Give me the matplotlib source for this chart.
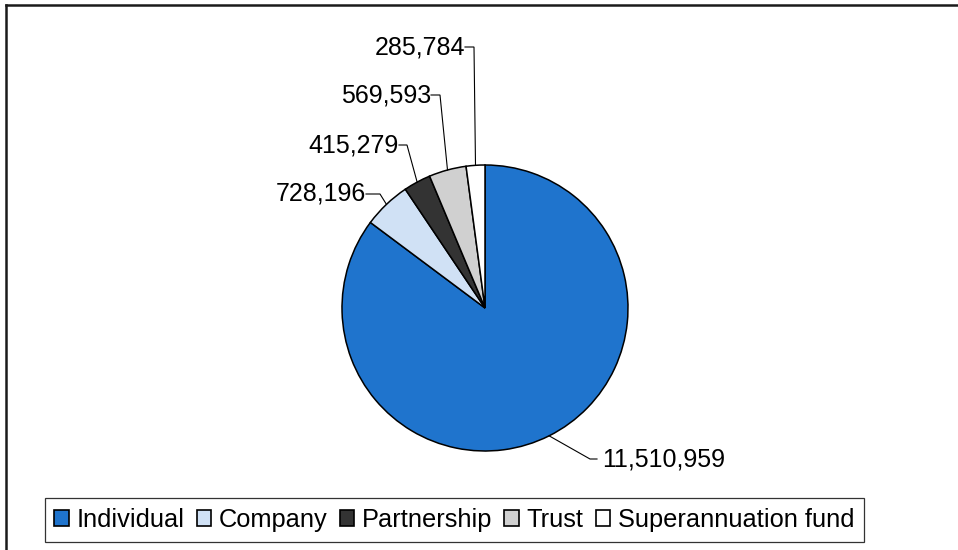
import numpy as np
import matplotlib
matplotlib.use("Agg")
import matplotlib.pyplot as plt
from matplotlib.patches import Patch
from matplotlib.lines import Line2D

plt.rcParams['font.family'] = ['Liberation Sans', 'DejaVu Sans']

categories = ["Individual", "Company", "Partnership", "Trust", "Superannuation fund"]
values = [11510959, 728196, 415279, 569593, 285784]
colors = ["#1f74cd", "#d0e1f5", "#333333", "#d0d0d0", "#ffffff"]

W, H = 958, 550
LABEL_FS = 18.0
LEGEND_FS = 18.3
fig = plt.figure(figsize=(W / 100, H / 100), dpi=100)
ax = fig.add_axes([0, 0, 1, 1])

cx, cy, r = 485, 308, 143

# pie drawn in a y-down pixel space: flip orientation accordingly
wedges, _ = ax.pie(values, colors=colors, startangle=-90, counterclock=True,
                   center=(cx, cy), radius=r, frame=True,
                   wedgeprops=dict(edgecolor="black", linewidth=1.1))
ax.set_xlim(0, W)
ax.set_ylim(H, 0)
ax.set_aspect('equal')
ax.axis('off')

# label elbows: (text anchor x, text y, elbow x, alignment)
label_layout = [
    (602, 459, 590, 'left'),
    (366, 194, 380, 'right'),
    (399, 145, 407, 'right'),
    (431, 95, 440, 'right'),
    (465, 47, 474, 'right'),
]

for w, v, (tx, ty, ex, ha) in zip(wedges, values, label_layout):
    ang = np.deg2rad((w.theta1 + w.theta2) / 2)
    px = cx + r * np.cos(ang)
    py = cy + r * np.sin(ang)
    end_x = tx - 5 if ha == 'left' else tx
    ax.plot([px, ex, end_x], [py, ty, ty],
            color="black", lw=0.8, solid_joinstyle='miter')
    ax.text(tx, ty, f"{v:,}", ha=ha, va='center', fontsize=LABEL_FS, color="black")

# outer frame: top and left edges
fig.add_artist(Line2D([6 / W, 6 / W], [1 - 5 / H, 0], transform=fig.transFigure,
                      color="#1a1a1a", lw=1.8))
fig.add_artist(Line2D([6 / W, 1], [1 - 5 / H, 1 - 5 / H], transform=fig.transFigure,
                      color="#1a1a1a", lw=1.8))

handles = [Patch(facecolor=c, edgecolor="black", linewidth=1.2) for c in colors]
leg = fig.legend(handles, categories, loc='center', ncol=5,
                 bbox_to_anchor=(454.5 / W, 1 - 520 / H),
                 fontsize=LEGEND_FS, frameon=True, fancybox=False,
                 handlelength=0.58, handleheight=0.56, handletextpad=0.3,
                 columnspacing=0.47, borderpad=0.38)
leg.get_frame().set_edgecolor("black")
leg.get_frame().set_linewidth(0.9)

fig.savefig("out.png", dpi=100)
